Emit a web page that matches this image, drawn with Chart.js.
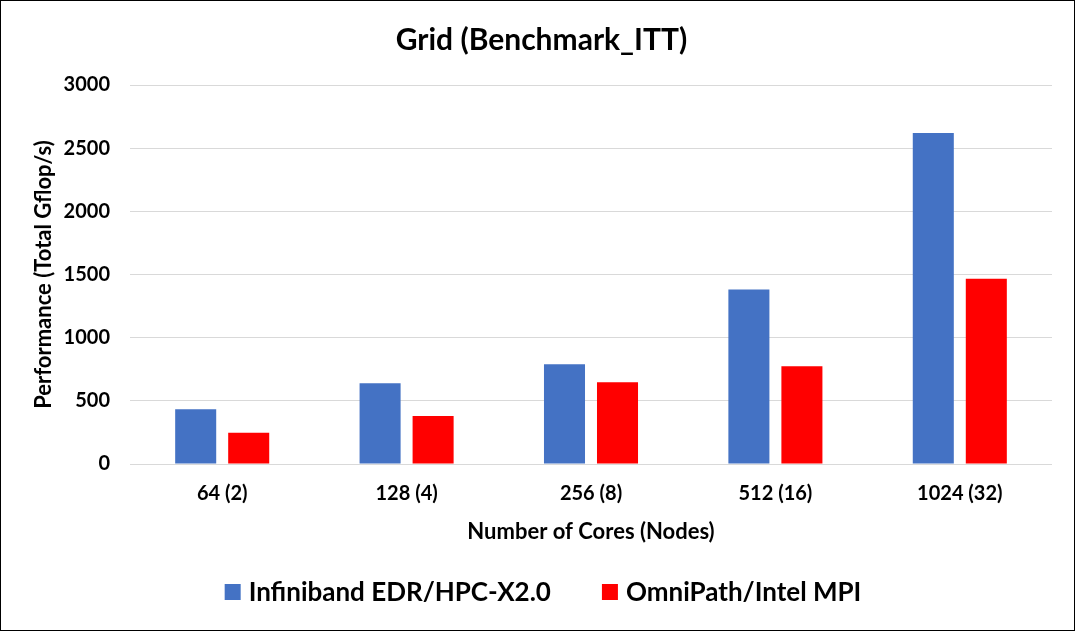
<!DOCTYPE html>
<html>
<head>
<meta charset="utf-8">
<script src="https://cdn.jsdelivr.net/npm/chart.js@4"></script>
<style>
  html, body { margin: 0; padding: 0; background: #fff; }
  #wrap { width: 1075px; height: 631px; box-sizing: border-box; border: 1px solid #000; }
  canvas { display: block; }
</style>
</head>
<body>
<div id="wrap"><canvas id="chart" width="1073" height="629"></canvas></div>
<script>
// values
const categories = ["64 (2)", "128 (4)", "256 (8)", "512 (16)", "1024 (32)"];
const infiniband = [434, 640, 789, 1382, 2621];
const omnipath = [247, 380, 647, 774, 1467];
const seriesNames = ["Infiniband EDR/HPC-X2.0", "OmniPath/Intel MPI"];

const FONT = "Lato, 'Open Sans', sans-serif";

// legend drawn by hand: chart.js legend padding also grows the box height
const bottomLegend = {
  id: "bottomLegend",
  afterDraw(chart) {
    const c = chart.ctx;
    const y = 591;
    const box = 16, gap = 8, spacing = 51;
    c.save();
    c.font = "bold 26px " + FONT;
    c.textBaseline = "middle";
    const items = chart.data.datasets.map(ds => ({
      text: ds.label, color: ds.backgroundColor, w: c.measureText(ds.label).width
    }));
    let total = 0;
    items.forEach((it, i) => { total += box + gap + it.w + (i ? spacing : 0); });
    let x = 542 - total / 2;
    items.forEach(it => {
      c.fillStyle = it.color;
      c.fillRect(x, y - box / 2, box, box);
      c.fillStyle = "#000";
      c.fillText(it.text, x + box + gap, y + 1);
      x += box + gap + it.w + spacing;
    });
    c.restore();
  }
};

const ctx = document.getElementById("chart").getContext("2d");
new Chart(ctx, {
  type: "bar",
  data: {
    labels: categories,
    datasets: [
      { label: seriesNames[0], data: infiniband, backgroundColor: "#4472c4" },
      { label: seriesNames[1], data: omnipath, backgroundColor: "#ff0000" }
    ]
  },
  options: {
    responsive: false,
    animation: false,
    devicePixelRatio: 1,
    categoryPercentage: 0.575,
    barPercentage: 0.774,
    layout: { padding: { left: 30, right: 22, top: 0, bottom: 85 } },
    plugins: {
      title: {
        display: true,
        text: "Grid (Benchmark_ITT)",
        color: "#000",
        font: { family: FONT, size: 30, weight: "bold" },
        padding: { top: 21, bottom: 27 }
      },
      legend: { display: false },
      tooltip: { enabled: false }
    },
    scales: {
      x: {
        afterFit: s => { s.height = 81; },
        grid: { display: false },
        border: { display: false },
        ticks: { color: "#000", font: { family: FONT, size: 20, weight: "bold" }, padding: 10 },
        title: {
          display: true,
          text: "Number of Cores (Nodes)",
          color: "#000",
          font: { family: FONT, size: 22, weight: "bold" },
          padding: { top: 0, bottom: 0 }
        }
      },
      y: {
        min: 0,
        max: 3000,
        afterFit: s => { s.width = 99; },
        grid: { color: "#d9d9d9", lineWidth: 1, drawTicks: false },
        border: { display: false },
        ticks: {
          stepSize: 500,
          color: "#000",
          font: { family: FONT, size: 20, weight: "bold" },
          padding: 20,
          format: { useGrouping: false }
        },
        title: {
          display: true,
          text: "Performance (Total Gflop/s)",
          color: "#000",
          font: { family: FONT, size: 22, weight: "bold" },
          padding: { top: 0, bottom: 0 }
        }
      }
    }
  },
  plugins: [bottomLegend]
});
</script>
</body>
</html>
